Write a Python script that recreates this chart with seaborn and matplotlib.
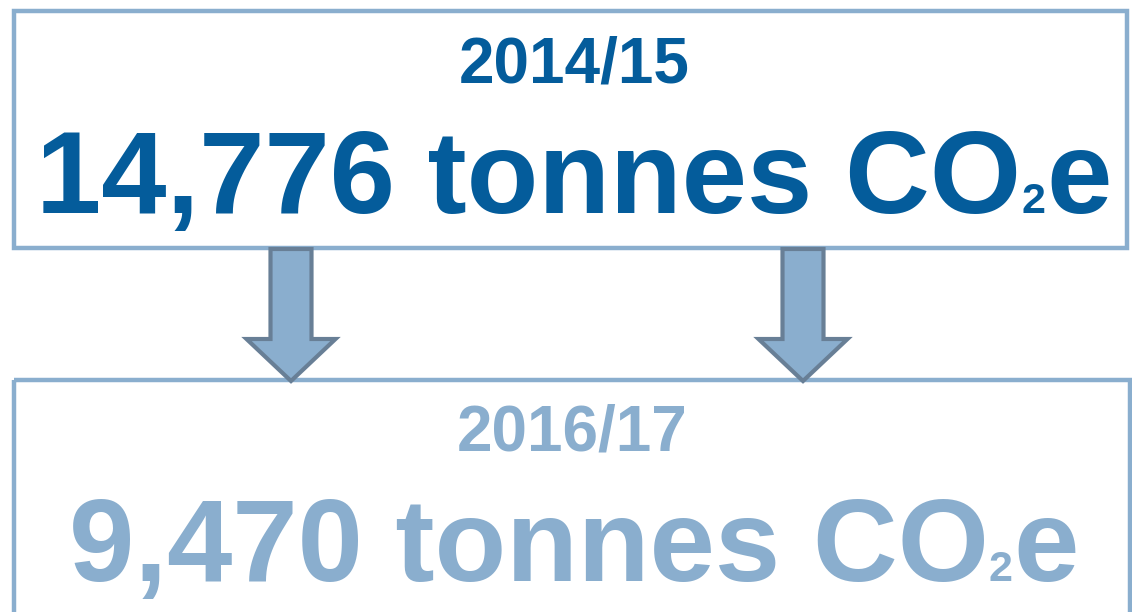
import matplotlib
matplotlib.use("Agg")
import matplotlib.pyplot as plt
from matplotlib.patches import Rectangle, Polygon
import seaborn as sns

# Data
years = ["2014/15", "2016/17"]
values = ["14,776", "9,470"]
unit_main = " tonnes CO"
unit_sub = "2"
unit_tail = "e"
text_colors = ["#045C9B", "#8AAECE"]

sns.set_theme(style="white")
plt.rcParams['font.family'] = ['Liberation Sans', 'DejaVu Sans']

W, H = 1132, 612
fig = plt.figure(figsize=(W / 100, H / 100), dpi=100)
ax = fig.add_axes([0, 0, 1, 1])
ax.set_xlim(0, W)
ax.set_ylim(H, 0)
ax.axis('off')

box_col = "#8AAECE"
lw_box = 3.2
ax.add_patch(Rectangle((14, 10.5), 1113, 237.5, fill=False, edgecolor=box_col, lw=lw_box, zorder=1))
ax.add_patch(Rectangle((14, 379.5), 1115.5, 300, fill=False, edgecolor=box_col, lw=lw_box, zorder=1))

def arrow(cx):
    sw, hw = 20.5, 44.5
    top, sh, tip = 249, 339, 381
    pts = [(cx - sw, top), (cx + sw, top), (cx + sw, sh), (cx + hw, sh),
           (cx, tip), (cx - hw, sh), (cx - sw, sh)]
    ax.add_patch(Polygon(pts, closed=True, facecolor="#8AAECE", edgecolor="#687F96",
                         lw=3.0, joinstyle='miter', zorder=3))

arrow(291)
arrow(803)

renderer = fig.canvas.get_renderer()

def width_of(t):
    bb = t.get_window_extent(renderer=renderer)
    return bb.width

def composite(center_x, baseline, main, color, size_main, size_sub):
    parts = [(main, size_main), (unit_sub, size_sub), (unit_tail, size_main)]
    objs = []
    for s, fs in parts:
        t = ax.text(0, baseline, s, fontsize=fs, fontweight='bold', color=color,
                    ha='left', va='baseline', zorder=4)
        objs.append(t)
    widths = [width_of(t) for t in objs]
    gaps = [0, 1]
    total = sum(widths) + sum(gaps)
    x = center_x - total / 2
    for i, (t, w) in enumerate(zip(objs, widths)):
        t.set_x(x)
        x += w + (gaps[i] if i < len(gaps) else 0)

# Top box
ax.text(574, 82, years[0], fontsize=46, fontweight='bold', color=text_colors[0],
        ha='center', va='baseline', zorder=4)
composite(574, 213, values[0] + unit_main, text_colors[0], 84.5, 31)

# Bottom box
ax.text(572, 451, years[1], fontsize=46, fontweight='bold', color=text_colors[1],
        ha='center', va='baseline', zorder=4)
composite(574, 581, values[1] + unit_main, text_colors[1], 84.5, 31)

fig.savefig("out.png", dpi=100, facecolor="white")
